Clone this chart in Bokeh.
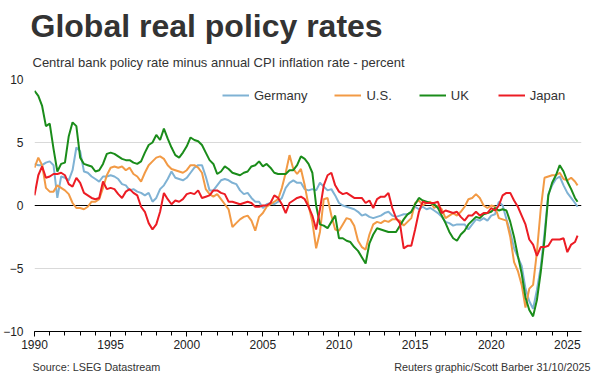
from bokeh.plotting import figure
from bokeh.layouts import column
from bokeh.models import (Plot, Range1d, Label, Legend, LegendItem, Span,
                          FixedTicker, SingleIntervalTicker)
from bokeh.embed import file_html
from bokeh.resources import INLINE

# ---------------- data (quarterly readings, last point = Sep 2025) ----------------
years = [y + q for y in range(1990, 2025) for q in (0.0, 0.25, 0.5, 0.75)] + [2025.0, 2025.25, 2025.5, 2025.67]

germany = [
    3.3, 3.2, 3.2, 3.4,   3.5, 3.2, 0.6, 2.3,   2.2, 2.0, 2.8, 4.6,   4.3, 2.7, 2.6, 2.3,
    2.1, 1.9, 2.3, 2.3,   2.4, 2.3, 2.1, 1.7,   1.6, 1.2, 1.3, 1.1,   1.0, 0.8, 1.0, 0.3,
    0.6, 1.3, 1.6, 2.1,   2.7, 2.2, 2.1, 2.0,   2.2, 2.6, 3.0, 3.2,   3.2, 2.3, 1.2, 1.2,
    1.6, 2.0, 2.1, 2.0,   1.8, 1.7, 1.2, 0.9,   1.0, 0.6, 0.3, 0.3,  -0.2, 0.1, 0.2, 0.1,
    0.3, 0.6, 1.4, 1.8,   2.0, 1.8, 1.8, 1.3,   1.2, 1.3, 1.2, 1.8,   1.5, 1.2, 1.3, 0.8,
    0.2, 0.0, -0.1, -0.2, -0.3, -0.5, -0.8, -0.7, -0.9, -1.0, -0.9, -0.8, -0.6, -0.5, -0.8, -0.9,
    -0.8, -0.7, -0.7, -0.5, -0.1, -0.3, -0.1, -0.3, -0.2, -0.4, -0.6, -0.9, -1.3, -1.4, -1.6, -1.5,
    -1.5, -1.5, -1.9, -1.5, -1.1, -1.2, -1.0, -1.2, -0.8, -0.7, 0.3, 0.0, -1.1, -2.1, -3.4, -4.1,
    -4.8, -6.6, -7.6, -8.2, -6.7, -4.9, -2.2, 0.9,  1.6, 2.1, 2.3, 1.6,  1.0, 0.6, 0.2, -0.1,
]

us = [
    3.0, 3.8, 3.2, 1.4,   1.1, 1.1, 1.6, 1.4,   1.2, 0.9, 0.2, -0.2, -0.2, -0.3, -0.1, 0.3,
    0.3, 0.5, 1.4, 2.4,   3.0, 3.1, 3.0, 3.1,   2.8, 3.0, 2.5, 2.3,   1.9, 2.6, 3.2, 3.5,
    3.8, 3.9, 3.7, 3.2,   2.9, 2.8, 2.7, 2.6,   2.8, 3.2, 3.2, 3.0,   2.6, 1.3, 0.9, 0.7,
    0.9, 0.5, 0.1, -0.3, -1.7, -1.4, -1.1, -0.9, -0.8, -1.2, -2.0, -0.9, -0.6, -0.1, 0.1, 0.3,
    0.5, 1.4, 2.6, 4.0,   2.9, 2.5, 2.9, 1.6,   0.0, -1.3, -3.4, -2.1, 0.5, 0.6, -0.8, -1.9,
    -2.0, -1.5, -1.0, -1.1, -1.6, -2.8, -3.3, -3.5, -2.3, -1.5, -1.3, -1.4, -1.2, -1.3, -1.1, -1.1,
    -1.2, -1.6, -1.3, -1.0, 0.2, 0.4, 0.0, 0.2,  0.3, -0.2, 0.0, -0.3, -1.0, -0.8, -0.6, -0.8,
    -0.5, -0.1, 0.5, 0.6,  0.9, 0.6, 0.0, -0.2,  0.0, -0.1, -1.0, -1.1, -1.2, -2.5, -4.5, -5.2,
    -6.3, -8.1, -6.6, -6.3, -3.7, -0.3, 2.2, 2.3,  2.4, 2.4, 2.6, 2.1,  2.0, 2.2, 1.9, 1.6,
]

uk = [
    9.1, 8.7, 7.9, 6.3,   6.5, 4.5, 2.7, 3.3,   3.4, 5.5, 6.6, 6.3,   3.8, 3.3, 3.2, 3.1,
    2.7, 2.8, 3.3, 4.1,   4.2, 4.1, 3.9, 3.7,   3.6, 3.6, 3.4, 3.3,   3.5, 4.2, 4.8, 5.0,
    5.6, 5.2, 6.1, 5.3,   4.6, 4.0, 3.8, 4.2,   4.7, 5.4, 5.2, 5.1,   4.8, 4.2, 3.6, 3.3,
    2.5, 2.7, 3.1, 2.9,   2.6, 2.5, 2.4, 2.6,   2.7, 3.1, 3.2, 3.5,   3.1, 3.3, 3.0, 2.6,
    2.5, 2.5, 2.5, 2.8,   2.8, 3.2, 3.9, 3.7,   3.3, 2.6, 0.0, -1.5, -1.6, -1.8, -1.3, -0.8,
    -2.6, -2.6, -2.8, -2.9, -3.3, -3.6, -4.1, -4.6, -3.0, -2.3, -1.8, -1.9, -2.0, -2.1, -2.1, -2.1,
    -1.6, -1.1, -0.7, -0.5, 0.1, 0.6, 0.4, 0.3,  0.2, 0.1, -0.2, -0.8, -1.4, -2.1, -2.6, -2.8,
    -2.3, -2.0, -1.5, -1.2, -0.9, -1.0, -0.7, -0.6, -0.5, -0.2, -0.4, -0.3, -0.4, -1.3, -2.5, -4.0,
    -5.4, -7.3, -8.3, -8.8, -7.5, -5.3, -2.7, 0.8,  1.8, 2.4, 3.2, 2.7,  1.9, 1.3, 0.6, 0.3,
]

japan = [
    0.8, 2.4, 3.1, 2.2,   2.3, 2.5, 2.5, 2.6,   2.4, 1.7, 1.5, 2.2,   1.8, 1.0, 0.8, 0.6,
    0.5, 0.6, 1.9, 1.3,   1.4, 1.3, 0.9, 0.6,   1.1, 1.3, 1.0, 0.8,  -0.1, -0.5, -1.4, -1.9,
    -1.5, -0.5, 1.0, 0.5,  0.1, 0.4, 0.3, 0.5,   0.9, 1.0, 0.9, 1.2,   0.6, 0.7, 0.8, 1.2,
    1.2, 1.0, 0.9, 0.3,   0.3, 0.2, 0.1, 0.2,   0.3, 0.2, -0.1, -0.1,  0.0, 0.0, 0.2, 0.8,
    0.6, 0.1, -0.6, 0.2,  0.4, 0.6, 0.7, 0.5,  -0.1, -0.8, -1.9, -0.3, 1.6, 2.4, 2.6, 1.6,
    1.1, 0.9, 1.0, 0.8,   0.6, 0.6, 0.6, 0.2,   0.4, -0.2, 0.5, 0.7,  0.7, 1.0, -0.2, -1.0,
    -1.4, -3.4, -3.2, -3.2, -1.9, -0.5, 0.3, 0.2, 0.2, 0.2, 0.3, -0.6, -0.4, -0.5, -0.6, -0.5,
    -0.9, -1.2, -0.8, -0.8, -0.5, -0.8, -0.6, -0.6, -0.2, -0.4, 0.0, 0.8,  1.0, 1.0, 0.4, -0.1,
    -0.8, -1.5, -2.7, -3.1, -4.0, -3.3, -3.3, -3.2, -2.7, -2.7, -2.7, -2.6, -3.7, -3.1, -2.9, -2.4,
]

series_names = ["Germany", "U.S.", "UK", "Japan"]
series_values = [germany, us, uk, japan]
series_colors = ["#7fb2d4", "#f29a45", "#1a8c1a", "#ec1c24"]

y_ticks = [-10, -5, 0, 5, 10]
grid_ticks = [-10, -5, 5, 10]

title_text = "Global real policy rates"
subtitle_text = "Central bank policy rate minus annual CPI inflation rate - percent"
source_text = "Source: LSEG Datastream"
credit_text = "Reuters graphic/Scott Barber 31/10/2025"

# ---------------- layout ----------------
W = 600
HEAD_H, MAIN_H, FOOT_H = 72, 288, 16
FL, FR = 32, 581                       # frame left / right (px)
FT, FB = 79 - HEAD_H, 331 - HEAD_H     # frame top / bottom inside main figure
X0 = 1990
X1 = X0 + (FR - FL) / 15.28
Y0, Y1 = -10, 10
FONT = "Liberation Sans"
TXT = "#333333"


def text_panel(height):
    # bare plot whose frame is the whole canvas; y measured downward in pixels
    f = Plot(width=W, height=height, x_range=Range1d(0, W), y_range=Range1d(height, 0),
             output_backend="svg", toolbar_location=None, title=None,
             min_border=0, min_border_left=0, min_border_right=0,
             min_border_top=0, min_border_bottom=0, frame_align=False,
             outline_line_color=None, background_fill_color="white",
             border_fill_color="white")
    return f


# header (text positioned by its vertical middle)
head = text_panel(HEAD_H)
head.add_layout(Label(x=30, y=25, text=title_text, text_font=FONT,
                      text_font_size="32px", text_font_style="bold",
                      text_color=TXT, text_baseline="middle"))
head.add_layout(Label(x=32, y=61.5, text=subtitle_text, text_font=FONT,
                      text_font_size="13px", text_color=TXT,
                      text_baseline="middle"))

# main chart
p = figure(width=W, height=MAIN_H, x_range=Range1d(X0, X1), y_range=Range1d(Y0, Y1),
           output_backend="svg", toolbar_location=None, title=None,
           min_border_left=FL, min_border_right=W - FR,
           min_border_top=FT, min_border_bottom=MAIN_H - FB)
p.frame_align = False
p.outline_line_color = None
p.background_fill_color = "white"
p.border_fill_color = "white"

p.xaxis.ticker = SingleIntervalTicker(interval=5, num_minor_ticks=5)
p.xaxis.axis_line_color = "black"
p.xaxis.axis_line_width = 1
p.xaxis.major_tick_line_color = "black"
p.xaxis.minor_tick_line_color = "black"
p.xaxis.major_tick_in = 0
p.xaxis.minor_tick_in = 0
p.xaxis.major_tick_out = 5
p.xaxis.minor_tick_out = 4
p.xaxis.major_label_standoff = 3
p.xaxis.major_label_text_font = FONT
p.xaxis.major_label_text_font_size = "12px"
p.xaxis.major_label_text_color = "#222222"

p.yaxis.ticker = FixedTicker(ticks=y_ticks)
p.yaxis.axis_line_color = None
p.yaxis.major_tick_line_color = None
p.yaxis.minor_tick_line_color = None
p.yaxis.major_label_standoff = 5
p.yaxis.major_label_text_font = FONT
p.yaxis.major_label_text_font_size = "12px"
p.yaxis.major_label_text_color = "#222222"

p.xgrid.visible = False
p.ygrid.ticker = FixedTicker(ticks=grid_ticks)
p.ygrid.grid_line_color = "#d9d9d9"
p.ygrid.grid_line_width = 1

p.add_layout(Span(location=0, dimension="width", line_color="black",
                  line_width=1, level="underlay"))

items = []
for name, vals, col in zip(series_names, series_values, series_colors):
    r = p.line(years, vals, line_color=col, line_width=2)
    items.append(LegendItem(label=name, renderers=[r]))

legend = Legend(items=items, orientation="horizontal", location=(188, 226),
                border_line_color=None, background_fill_alpha=0,
                padding=0, margin=0, spacing=27, glyph_width=27, glyph_height=20,
                label_standoff=5, label_height=20,
                label_text_font=FONT, label_text_font_size="13px",
                label_text_color=TXT)
p.add_layout(legend)

# footer
foot = text_panel(FOOT_H)
foot.add_layout(Label(x=32, y=6.5, text=source_text, text_font=FONT,
                      text_font_size="10.8px", text_color=TXT,
                      text_baseline="middle"))
foot.add_layout(Label(x=590, y=6.5, text=credit_text, text_font=FONT,
                      text_font_size="10.8px", text_color=TXT,
                      text_baseline="middle", text_align="right"))

layout = column(head, p, foot, spacing=0)
open("out.html", "w").write(file_html(layout, INLINE))
